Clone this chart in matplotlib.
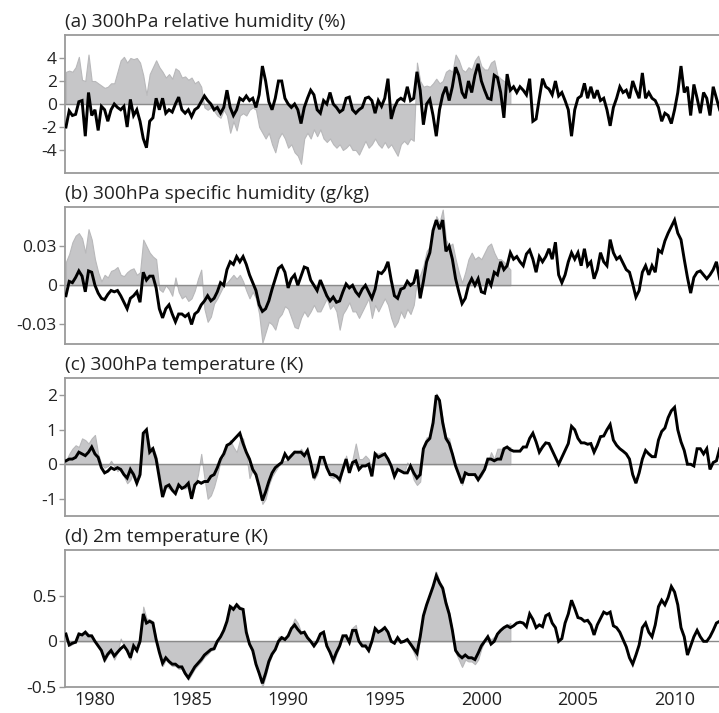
import numpy as np
import matplotlib
matplotlib.use("Agg")
import matplotlib.pyplot as plt

# time axis: bi-monthly samples starting mid-1978
start_year = 1978.5
step = 1.0 / 6.0

# ---------------- (a) 300hPa relative humidity (%) ----------------
rh_black = [
    -2.0, -0.6, -1.0, -0.9, 0.2, 0.3, -2.8, 1.0, -1.0, -0.5,
    -2.3, -0.2, -0.5, -1.5, -0.5, 0.0, -0.3, -0.5, -0.2, -2.0,
    0.4, -1.0, -0.5, -1.5, -3.0, -3.8, -1.5, -1.2, 0.5, -0.5,
    0.5, -0.8, -0.5, -0.7, 0.0, 0.6, -0.5, -0.8, -0.5, -1.1,
    -0.5, -0.3, 0.2, 0.7, 0.3, 0.0, -0.5, -0.3, -0.8, -0.3,
    1.2, -0.3, -1.0, -0.5, 0.5, 0.3, 0.7, 0.3, 0.5, -0.3,
    0.8, 3.3, 2.0, 0.2, -0.5, 0.5, 2.0, 2.0, 0.5, 0.0,
    -0.3, 0.0, -0.5, -1.7, -0.3, 0.5, 1.2, 0.8, -0.5, -0.8,
    0.3, 0.0, 1.0, 0.0, -0.3, -0.7, -0.5, 0.5, 0.6, -0.5,
    -0.8, -0.5, -0.3, 0.5, 0.6, 0.3, -0.8, 0.3, -0.2, 0.5,
    2.2, -1.3, -0.3, 0.3, 0.5, 0.3, 1.5, 0.3, 0.5, 2.8,
    1.2, -1.8, 0.0, 0.4, -1.0, -2.8, -0.5, 0.8, 1.5, 0.3,
    1.5, 3.2, 2.5, 1.0, 0.5, 2.0, 1.0, 2.5, 3.5, 2.0,
    1.2, 0.5, 0.4, 2.5, 2.3, 1.0, -1.2, 2.6, 1.2, 1.5,
    1.0, 1.5, 1.2, 0.8, 2.2, -1.5, -1.3, 0.5, 2.2, 1.5,
    1.3, 0.8, 2.0, 0.7, 1.0, 0.3, -0.5, -2.8, -0.5, 0.5,
    0.7, 1.8, 0.5, 1.5, 0.5, 1.2, 0.3, 0.5, -0.5, -1.9,
    -0.3, 0.5, 1.5, 1.0, 1.2, 0.5, 2.0, 1.2, 0.5, 2.7,
    0.5, 1.0, 0.5, 0.3, -0.3, -1.5, -0.8, -1.0, -1.7, -0.5,
    1.0, 3.3, 1.0, 1.5, -1.0, 1.7, 0.5, -0.8, 1.0, 0.5,
    -1.0, 1.5, 0.5, -0.5,
]
rh_gray = [
    2.8, 2.9, 2.8, 3.2, 4.1, 2.1, 2.0, 4.3, 2.0, 2.0,
    1.8, 1.6, 1.4, 1.5, 1.8, 1.8, 2.8, 3.8, 4.1, 3.6,
    4.0, 3.9, 4.0, 3.6, 2.5, 0.8, 2.6, 3.2, 3.8, 3.2,
    2.8, 2.3, 2.6, 2.2, 3.1, 2.9, 2.3, 2.4, 2.1, 2.3,
    1.8, 2.0, 1.5, -0.3, -0.5, -0.3, -0.6, -1.0, -1.2, -0.5,
    -1.0, -2.5, -1.5, -2.3, -1.0, -0.8, -1.0, -0.5, -0.3, -0.5,
    -2.0, -2.5, -3.0, -2.5, -3.5, -4.2, -3.0, -2.5, -3.0, -3.8,
    -3.5, -4.2, -4.5, -5.2, -3.0, -2.5, -3.0, -2.2, -2.8, -2.2,
    -3.0, -3.3, -3.0, -3.5, -3.8, -3.5, -4.0, -3.8, -3.5, -4.0,
    -4.0, -4.4, -3.8, -3.2, -3.8, -3.5, -3.0, -3.5, -3.8, -3.3,
    -3.8, -3.5, -4.0, -4.5, -3.5, -3.2, -3.5, -3.0, -3.2, 3.6,
    2.0, 1.5, 1.6, 1.5, 1.8, 2.2, 1.8, 2.0, 2.8, 3.0,
    2.8, 4.3, 3.8, 3.0, 2.8, 3.2, 3.0, 3.8, 4.2, 3.3,
    3.0, 3.0, 3.6, 3.8, 2.5, 2.2, 2.0, 1.8, 1.5,
]

# ---------------- (b) 300hPa specific humidity (g/kg) ----------------
q_black = [
    -0.008, 0.003, 0.002, 0.006, 0.011, 0.007, -0.005, 0.011, 0.010, 0.000,
    -0.006, -0.010, -0.011, -0.007, -0.004, -0.005, -0.004, -0.008, -0.013, -0.018,
    -0.010, -0.008, -0.005, -0.013, 0.010, 0.004, 0.007, 0.007, -0.002, -0.018,
    -0.025, -0.018, -0.015, -0.022, -0.028, -0.022, -0.022, -0.024, -0.022, -0.030,
    -0.022, -0.020, -0.015, -0.012, -0.008, -0.012, -0.010, -0.005, 0.002, 0.000,
    0.012, 0.018, 0.016, 0.022, 0.018, 0.022, 0.016, 0.008, 0.002, -0.004,
    -0.015, -0.020, -0.018, -0.012, -0.003, 0.005, 0.013, 0.015, 0.010, -0.002,
    0.005, 0.008, 0.000, 0.007, 0.014, 0.013, 0.004, 0.000, -0.004, 0.004,
    -0.002, -0.008, -0.012, -0.009, -0.013, -0.012, -0.005, 0.001, -0.002, 0.000,
    -0.005, -0.008, -0.003, 0.000, -0.005, -0.010, -0.003, 0.010, 0.009, 0.012,
    0.018, 0.004, -0.008, -0.010, -0.003, -0.002, 0.003, 0.000, 0.002, 0.012,
    -0.010, 0.003, 0.018, 0.025, 0.042, 0.050, 0.043, 0.050, 0.026, 0.030,
    0.020, 0.005, -0.005, -0.014, -0.010, 0.000, 0.005, 0.000, 0.005, -0.005,
    -0.006, 0.005, 0.000, 0.010, 0.008, 0.018, 0.012, 0.015, 0.025, 0.020,
    0.022, 0.018, 0.015, 0.024, 0.027, 0.020, 0.010, 0.022, 0.018, 0.022,
    0.028, 0.020, 0.033, 0.008, 0.002, 0.008, 0.018, 0.025, 0.020, 0.025,
    0.015, 0.028, 0.015, 0.018, 0.005, 0.012, 0.025, 0.018, 0.015, 0.035,
    0.025, 0.020, 0.022, 0.017, 0.012, 0.010, 0.001, -0.009, -0.004, 0.010,
    0.015, 0.008, 0.015, 0.010, 0.027, 0.025, 0.034, 0.040, 0.045, 0.050,
    0.040, 0.035, 0.020, 0.006, -0.006, 0.006, 0.010, 0.011, 0.008, 0.005,
    0.008, 0.012, 0.018, 0.005,
]
q_gray = [
    0.018, 0.024, 0.033, 0.038, 0.040, 0.036, 0.025, 0.043, 0.035, 0.020,
    0.010, 0.003, 0.008, 0.006, 0.011, 0.012, 0.014, 0.008, 0.007, 0.010,
    0.012, 0.013, 0.008, 0.010, 0.035, 0.030, 0.025, 0.022, 0.020, -0.003,
    -0.005, 0.000, -0.003, -0.008, 0.006, -0.005, -0.010, -0.008, -0.012, -0.010,
    -0.004, 0.005, 0.012, -0.018, -0.028, -0.024, -0.014, -0.010, -0.005, 0.000,
    0.002, 0.005, 0.008, 0.005, 0.008, 0.003, -0.004, -0.010, -0.005, -0.010,
    -0.022, -0.044, -0.036, -0.028, -0.030, -0.034, -0.025, -0.022, -0.016, -0.018,
    -0.025, -0.032, -0.033, -0.025, -0.020, -0.024, -0.020, -0.015, -0.020, -0.020,
    -0.015, -0.010, -0.018, -0.015, -0.020, -0.034, -0.022, -0.018, -0.013, -0.020,
    -0.020, -0.025, -0.020, -0.015, -0.010, -0.025, -0.015, -0.020, -0.015, -0.010,
    -0.015, -0.025, -0.032, -0.028, -0.020, -0.025, -0.018, -0.022, -0.015, 0.004,
    0.008, 0.015, 0.026, 0.030, 0.040, 0.053, 0.048, 0.058, 0.035, 0.030,
    0.032, 0.020, 0.010, 0.002, 0.010, 0.020, 0.025, 0.020, 0.022, 0.020,
    0.025, 0.030, 0.032, 0.025, 0.020, 0.020, 0.018, 0.015, 0.012,
]

# ---------------- (c) 300hPa temperature (K) ----------------
t300_black = [
    0.10, 0.15, 0.15, 0.20, 0.35, 0.30, 0.25, 0.35, 0.50, 0.30,
    0.20, -0.10, -0.25, -0.20, -0.10, -0.15, -0.10, -0.15, -0.30, -0.40,
    -0.15, -0.30, -0.55, -0.30, 0.90, 1.00, 0.35, 0.45, 0.15, -0.40,
    -0.95, -0.65, -0.60, -0.75, -0.85, -0.60, -0.70, -0.65, -0.55, -1.00,
    -0.60, -0.50, -0.55, -0.50, -0.50, -0.35, -0.30, -0.10, 0.15, 0.30,
    0.55, 0.60, 0.70, 0.80, 0.90, 0.60, 0.35, 0.15, -0.15, -0.30,
    -0.65, -1.05, -0.80, -0.50, -0.25, -0.10, -0.02, 0.05, 0.30, 0.15,
    0.25, 0.35, 0.35, 0.35, 0.25, 0.40, 0.05, -0.40, -0.20, 0.20,
    0.20, -0.10, -0.30, -0.30, -0.35, -0.45, -0.15, 0.15, -0.25, 0.05,
    0.10, -0.15, -0.05, -0.05, 0.00, -0.35, 0.30, 0.20, 0.25, 0.30,
    0.15, -0.05, -0.35, -0.15, -0.20, -0.25, -0.25, -0.05, -0.25, -0.40,
    -0.30, 0.45, 0.65, 0.75, 1.20, 2.00, 1.85, 1.20, 0.75, 0.60,
    0.30, -0.05, -0.30, -0.55, -0.25, -0.30, -0.30, -0.30, -0.45, -0.30,
    -0.15, 0.15, 0.15, 0.10, 0.15, 0.15, 0.45, 0.50, 0.42, 0.38,
    0.38, 0.38, 0.50, 0.50, 0.75, 0.90, 0.65, 0.35, 0.50, 0.62,
    0.60, 0.40, 0.20, 0.00, 0.20, 0.40, 0.60, 1.10, 1.00, 0.75,
    0.62, 0.62, 0.58, 0.60, 0.35, 0.55, 0.80, 0.82, 1.00, 1.15,
    0.70, 0.55, 0.45, 0.38, 0.30, 0.15, -0.30, -0.55, -0.25, 0.15,
    0.40, 0.30, 0.22, 0.22, 0.70, 0.95, 1.05, 1.35, 1.55, 1.65,
    1.00, 0.65, 0.40, 0.00, 0.00, -0.05, 0.45, 0.45, 0.30, 0.45,
    -0.15, 0.05, 0.10, 0.45,
]
t300_gray = [
    0.10, 0.30, 0.45, 0.55, 0.50, 0.75, 0.70, 0.60, 0.75, 0.85,
    0.30, 0.00, -0.10, -0.05, 0.10, -0.05, -0.20, -0.10, -0.35, -0.55,
    -0.45, -0.20, -0.50, -0.35, 0.90, 1.00, 0.50, 0.50, 0.25, -0.20,
    -0.85, -0.65, -0.70, -0.75, -0.70, -0.60, -0.70, -0.70, -0.65, -1.00,
    -0.65, -0.30, 0.30, -0.40, -1.00, -0.90, -0.65, -0.30, 0.10, 0.20,
    0.50, 0.70, 0.50, 0.35, 0.70, 0.75, 0.30, -0.40, -0.15, -0.35,
    -0.75, -1.15, -1.00, -0.60, -0.35, -0.20, -0.05, 0.05, 0.10, 0.12,
    0.25, 0.40, 0.30, 0.45, 0.30, 0.40, 0.05, -0.45, -0.30, 0.20,
    0.20, -0.10, -0.35, -0.40, -0.35, -0.55, -0.05, 0.25, -0.20, 0.15,
    0.60, 0.15, 0.15, 0.25, 0.15, -0.20, 0.35, 0.30, 0.35, 0.30,
    0.20, 0.00, -0.35, -0.12, -0.20, -0.25, 0.05, -0.10, -0.45, -0.60,
    -0.50, 0.55, 0.78, 0.80, 1.10, 2.05, 1.85, 1.30, 0.80, 0.75,
    0.30, 0.00, -0.25, -0.60, -0.30, -0.25, -0.30, -0.30, -0.45, -0.35,
    -0.15, 0.05, 0.35, 0.15, 0.45, 0.45, 0.40, 0.50, 0.50,
]

# ---------------- (d) 2m temperature (K) ----------------
t2m_black = [
    0.08, -0.04, -0.02, -0.01, 0.08, 0.07, 0.10, 0.06, 0.06, 0.00,
    -0.05, -0.10, -0.20, -0.14, -0.10, -0.16, -0.12, -0.08, -0.05, -0.10,
    -0.18, -0.05, -0.10, 0.00, 0.30, 0.20, 0.22, 0.20, 0.02, -0.12,
    -0.24, -0.18, -0.22, -0.25, -0.25, -0.28, -0.28, -0.35, -0.40, -0.34,
    -0.28, -0.24, -0.20, -0.15, -0.12, -0.09, -0.08, 0.00, 0.05, 0.12,
    0.22, 0.38, 0.35, 0.40, 0.36, 0.35, 0.10, -0.03, -0.10, -0.25,
    -0.35, -0.46, -0.35, -0.22, -0.14, -0.09, 0.00, 0.04, 0.02, 0.06,
    0.14, 0.18, 0.13, 0.09, 0.10, 0.04, 0.00, -0.05, 0.00, 0.08,
    0.10, -0.05, -0.12, -0.21, -0.12, -0.05, 0.06, 0.06, -0.01, 0.12,
    0.12, 0.00, -0.05, -0.05, -0.10, 0.00, 0.14, 0.10, 0.12, 0.15,
    0.10, 0.00, -0.02, 0.04, -0.01, 0.00, 0.02, -0.03, -0.08, -0.13,
    0.05, 0.28, 0.40, 0.50, 0.60, 0.72, 0.64, 0.58, 0.42, 0.30,
    0.12, -0.10, -0.15, -0.18, -0.15, -0.18, -0.18, -0.20, -0.13, -0.05,
    0.00, 0.05, -0.03, 0.00, 0.08, 0.12, 0.15, 0.17, 0.15, 0.17,
    0.20, 0.21, 0.20, 0.16, 0.30, 0.24, 0.15, 0.18, 0.16, 0.28,
    0.30, 0.20, 0.15, 0.00, 0.03, 0.20, 0.30, 0.45, 0.36, 0.26,
    0.25, 0.22, 0.23, 0.18, 0.07, 0.18, 0.25, 0.32, 0.30, 0.32,
    0.17, 0.15, 0.10, 0.02, -0.06, -0.18, -0.25, -0.15, -0.04, 0.15,
    0.20, 0.10, 0.05, 0.18, 0.38, 0.45, 0.40, 0.48, 0.60, 0.54,
    0.40, 0.15, 0.05, -0.15, -0.05, 0.05, 0.12, 0.05, 0.00, 0.00,
    0.05, 0.12, 0.20, 0.22,
]
t2m_gray = [
    0.08, -0.05, -0.03, 0.00, 0.10, 0.08, 0.12, 0.08, 0.07, 0.00,
    -0.06, -0.10, -0.22, -0.15, -0.12, -0.20, -0.12, 0.03, -0.05, -0.12,
    -0.20, -0.06, -0.12, 0.00, 0.38, 0.25, 0.24, 0.22, 0.03, -0.14,
    -0.27, -0.20, -0.24, -0.27, -0.27, -0.30, -0.30, -0.37, -0.42, -0.36,
    -0.30, -0.26, -0.22, -0.17, -0.14, -0.10, -0.09, 0.00, 0.06, 0.14,
    0.24, 0.40, 0.37, 0.42, 0.38, 0.36, 0.10, -0.04, -0.12, -0.27,
    -0.37, -0.50, -0.38, -0.24, -0.15, -0.08, 0.05, 0.06, 0.03, 0.08,
    0.16, 0.25, 0.20, 0.10, 0.12, 0.05, 0.00, -0.06, 0.00, 0.10,
    0.12, -0.06, -0.14, -0.25, -0.14, -0.06, 0.07, 0.08, -0.02, 0.15,
    0.18, 0.00, -0.06, -0.06, -0.12, 0.00, 0.16, 0.12, 0.13, 0.16,
    0.11, 0.00, -0.03, 0.05, -0.02, 0.00, 0.02, -0.04, -0.12, -0.20,
    0.05, 0.28, 0.42, 0.52, 0.62, 0.76, 0.66, 0.60, 0.44, 0.32,
    0.12, -0.12, -0.20, -0.28, -0.20, -0.22, -0.22, -0.25, -0.20, -0.08,
    0.00, 0.06, 0.02, 0.05, 0.10, 0.12, 0.16, 0.18, 0.20,
]

titles = [
    "(a) 300hPa relative humidity (%)",
    "(b) 300hPa specific humidity (g/kg)",
    "(c) 300hPa temperature (K)",
    "(d) 2m temperature (K)",
]
ylims = [(-6, 6), (-0.045, 0.06), (-1.5, 2.5), (-0.5, 1.0)]
yticks = [[-4, -2, 0, 2, 4], [-0.03, 0, 0.03], [-1, 0, 1, 2], [-0.5, 0, 0.5]]
yticklabels = [["-4", "-2", "0", "2", "4"], ["-0.03", "0", "0.03"],
               ["-1", "0", "1", "2"], ["-0.5", "0", "0.5"]]
xticks = [1980, 1985, 1990, 1995, 2000, 2005, 2010]
blacks = [rh_black, q_black, t300_black, t2m_black]
grays = [rh_gray, q_gray, t300_gray, t2m_gray]

plt.rcParams['font.family'] = ['Open Sans', 'DejaVu Sans']

fig = plt.figure(figsize=(7.19, 7.13), dpi=100)
W, H = 719.0, 713.0
tops = [35, 207, 378, 550]
bottoms = [173, 344, 516, 687]
left_px = 65

spine_c = "#9a9a9a"
for i in range(4):
    ax = fig.add_axes([left_px / W, (H - bottoms[i]) / H,
                       (W - left_px) / W, (bottoms[i] - tops[i]) / H])
    b = np.array(blacks[i])
    g = np.array(grays[i])
    tb = start_year + step * np.arange(len(b))
    tg = start_year + step * np.arange(len(g))
    ax.fill_between(tg, 0, g, facecolor="#c6c6c8", edgecolor="#b8b8ba",
                    linewidth=0.8, zorder=1)
    ax.axhline(0, color="#8a8a8a", linewidth=1.0, zorder=2)
    ax.plot(tb, b, color="black", linewidth=2.1, zorder=3,
            solid_joinstyle="miter")
    ax.set_xlim(1978.45, 2012.3)
    ax.set_ylim(*ylims[i])
    ax.set_yticks(yticks[i])
    ax.set_yticklabels(yticklabels[i])
    ax.set_xticks(xticks)
    if i == 3:
        ax.set_xticklabels([str(x) for x in xticks])
    else:
        ax.set_xticklabels([])
    ax.tick_params(axis="x", length=0, labelsize=13, pad=3, colors="#222222")
    ax.tick_params(axis="y", length=4, width=1, color=spine_c,
                   labelsize=12.5, pad=2, labelcolor="#222222")
    for s in ["top", "bottom", "left"]:
        ax.spines[s].set_color(spine_c)
        ax.spines[s].set_linewidth(1.3)
    ax.spines["right"].set_visible(False)
    ax.text(0.0, 1.03, titles[i], transform=ax.transAxes, ha="left",
            va="bottom", fontsize=13.8, color="#222222")

fig.savefig("out.png", dpi=100)
